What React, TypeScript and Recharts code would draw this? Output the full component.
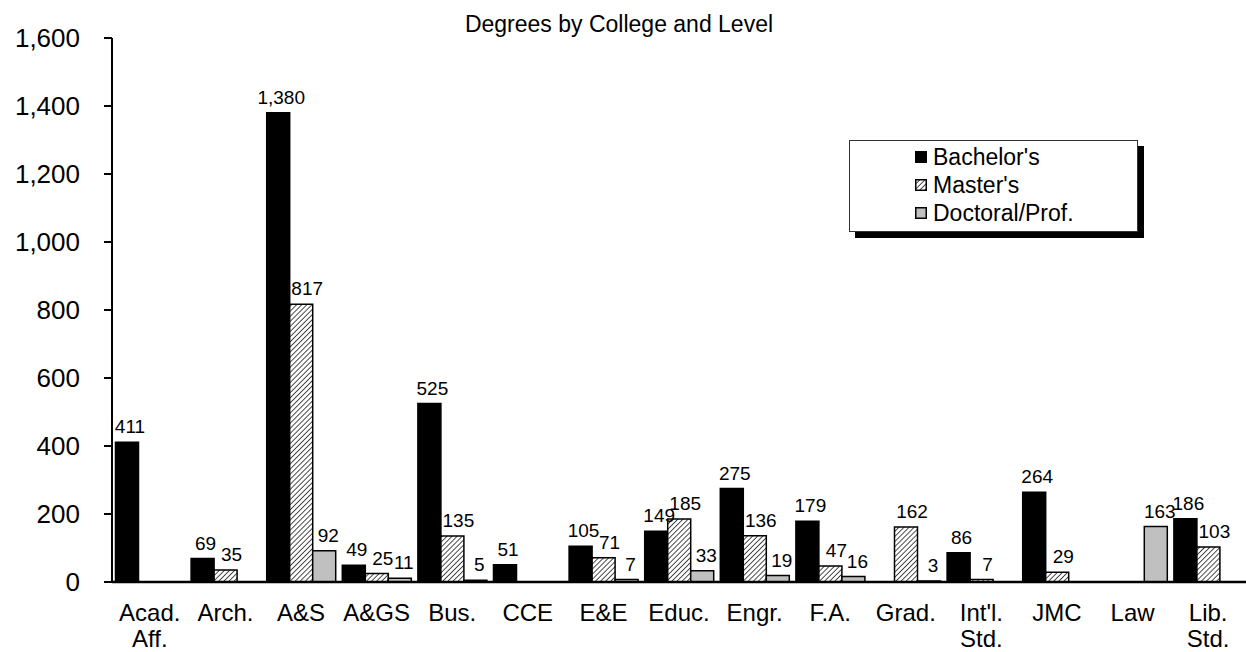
import React from "react";
import { Bar, BarChart, LabelList, Legend, XAxis, YAxis } from "recharts";

const FONT = '"Liberation Sans", Arial, sans-serif';

const colleges = [
  "Acad.\nAff.", "Arch.", "A&S", "A&GS", "Bus.", "CCE", "E&E", "Educ.",
  "Engr.", "F.A.", "Grad.", "Int'l.\nStd.", "JMC", "Law", "Lib.\nStd.",
];
const bachelors = [411, 69, 1380, 49, 525, 51, 105, 149, 275, 179, null, 86, 264, null, 186];
const masters = [null, 35, 817, 25, 135, null, 71, 185, 136, 47, 162, 7, 29, null, 103];
const doctoral = [null, null, 92, 11, 5, null, 7, 33, 19, 16, 3, null, null, 163, null];
const yTicks = [0, 200, 400, 600, 800, 1000, 1200, 1400, 1600];
const seriesOrder = ["Bachelor's", "Master's", "Doctoral/Prof."];

const data = colleges.map((c, i) => ({
  college: c,
  bachelors: bachelors[i],
  masters: masters[i],
  doctoral: doctoral[i],
}));

const GRAY = "#c0c0c0";

function CollegeTick({ x, y, payload }: any) {
  const lines = String(payload.value).split("\n");
  return (
    <text x={x} y={y} textAnchor="middle" fontSize={24} fill="#000" fontFamily={FONT}>
      {lines.map((l, i) => (
        <tspan key={i} x={x} dy={i === 0 ? 39 : 26}>
          {l}
        </tspan>
      ))}
    </text>
  );
}

function Swatch({ fill }: { fill: string }) {
  return (
    <svg width={12} height={12} style={{ display: "block" }}>
      <rect x={0.75} y={0.75} width={10.5} height={10.5} fill={fill} stroke="#000" strokeWidth={1.5} />
    </svg>
  );
}

function LegendBox({ payload }: any) {
  const items = [...(payload || [])].sort(
    (a: any, b: any) => seriesOrder.indexOf(a.value) - seriesOrder.indexOf(b.value)
  );
  return (
    <div
      style={{
        width: 289,
        height: 92,
        boxSizing: "border-box",
        border: "1px solid #333",
        background: "#fff",
        boxShadow: "6px 6px 0 0 #000",
        padding: "2px 0 0 65px",
        fontFamily: FONT,
        fontSize: 23,
        color: "#000",
      }}
    >
      {items.map((p: any) => (
        <div key={p.value} style={{ display: "flex", alignItems: "center", height: 28 }}>
          <Swatch fill={p.color} />
          <span style={{ marginLeft: 6 }}>{p.value}</span>
        </div>
      ))}
    </div>
  );
}

const labelStyle = { fontSize: 19, fill: "#000", fontFamily: FONT };
const fmt = (v: any) => (v == null ? "" : Number(v).toLocaleString("en-US"));

export default function App() {
  return (
    <div style={{ position: "absolute", left: 0, top: 0, width: 1246, height: 652, background: "#fff", fontFamily: FONT }}>
      <svg width={0} height={0} style={{ position: "absolute" }}>
        <defs>
          <pattern id="hatch" patternUnits="userSpaceOnUse" width={3.6} height={3.6} patternTransform="rotate(45)">
            <rect width={3.6} height={3.6} fill="#fff" />
            <line x1={0} y1={0} x2={0} y2={3.6} stroke="#000" strokeWidth={1.4} />
          </pattern>
        </defs>
      </svg>
      <div
        style={{
          position: "absolute",
          left: 0,
          top: 11,
          width: 1238,
          textAlign: "center",
          fontSize: 23,
          color: "#000",
        }}
      >
        Degrees by College and Level
      </div>
      <BarChart
        width={1246}
        height={652}
        data={data}
        margin={{ top: 38, right: 0, left: 0, bottom: 0 }}
        barCategoryGap={3.5}
        barGap={0}
      >
        <XAxis
          dataKey="college"
          height={70}
          interval={0}
          tickLine={false}
          tickSize={0}
          tickMargin={0}
          axisLine={{ stroke: "#000", strokeWidth: 2.5 }}
          tick={<CollegeTick />}
        />
        <YAxis
          width={112}
          domain={[0, 1600]}
          ticks={yTicks}
          interval={0}
          tickSize={8}
          tickMargin={24}
          axisLine={{ stroke: "#000", strokeWidth: 2 }}
          tickLine={{ stroke: "#000", strokeWidth: 2 }}
          tick={{ fontSize: 26, fill: "#000", fontFamily: FONT }}
          tickFormatter={(v: number) => v.toLocaleString("en-US")}
        />
        <Legend
          layout="vertical"
          align="center"
          verticalAlign="middle"
          content={<LegendBox />}
          wrapperStyle={{ left: 849, top: 140, width: 289, height: 92 }}
        />
        <Bar dataKey="bachelors" name="Bachelor's" fill="#000" stroke="#000" strokeWidth={1.5} isAnimationActive={false}>
          <LabelList dataKey="bachelors" position="top" offset={9} dx={3} style={labelStyle} formatter={fmt} />
        </Bar>
        <Bar dataKey="masters" name="Master's" fill="url(#hatch)" stroke="#000" strokeWidth={1.5} isAnimationActive={false}>
          <LabelList dataKey="masters" position="top" offset={9} dx={6} style={labelStyle} formatter={fmt} />
        </Bar>
        <Bar dataKey="doctoral" name="Doctoral/Prof." fill={GRAY} stroke="#000" strokeWidth={1.5} isAnimationActive={false}>
          <LabelList dataKey="doctoral" position="top" offset={9} dx={4} style={labelStyle} formatter={fmt} />
        </Bar>
      </BarChart>
    </div>
  );
}
